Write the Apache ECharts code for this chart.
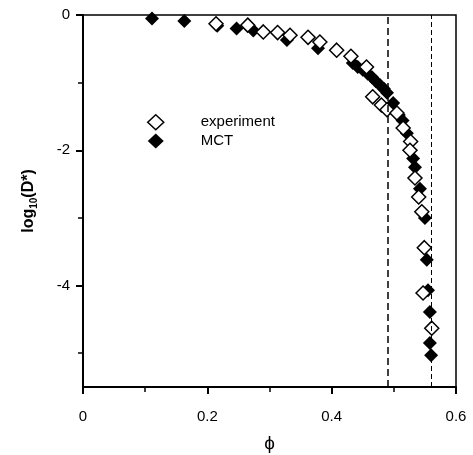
<!DOCTYPE html>
<html lang="en">
<head>
    <meta charset="UTF-8">
    <title>log10(D*) vs phi</title>
    <style>
        *{
            margin: 0;
            padding: 0;
        }
        .main{
            width: 473px;
            height: 455px;
            background: #fff;
        }
    </style>
    <script src="https://cdn.jsdelivr.net/npm/echarts@6/dist/echarts.min.js"></script>
</head>
<body>
<div class="main"></div>
<script>
    // data: [phi, log10(D*)]
    let experiment = [
        [0.214, -0.13], [0.265, -0.15], [0.290, -0.25], [0.313, -0.26], [0.333, -0.30],
        [0.362, -0.33], [0.381, -0.40], [0.408, -0.52], [0.431, -0.61], [0.456, -0.77],
        [0.466, -1.21], [0.480, -1.33], [0.489, -1.40], [0.505, -1.45], [0.515, -1.67],
        [0.527, -1.87], [0.526, -2.00], [0.534, -2.41], [0.540, -2.69], [0.545, -2.91],
        [0.549, -3.44], [0.547, -4.11], [0.561, -4.63]
    ];
    let mct = [
        [0.111, -0.05], [0.163, -0.09], [0.216, -0.16], [0.247, -0.20], [0.274, -0.23],
        [0.328, -0.37], [0.378, -0.49], [0.434, -0.71], [0.442, -0.77], [0.450, -0.81],
        [0.458, -0.87], [0.465, -0.92], [0.471, -0.98], [0.478, -1.04], [0.484, -1.09],
        [0.489, -1.15], [0.499, -1.30], [0.508, -1.48], [0.514, -1.56], [0.521, -1.75],
        [0.531, -2.12], [0.534, -2.25], [0.542, -2.57], [0.550, -3.00], [0.553, -3.62],
        [0.555, -4.07], [0.558, -4.39], [0.558, -4.85], [0.560, -5.03]
    ];
    let xTicks = [0, 0.2, 0.4, 0.6];
    let yMajor = [0, -2, -4];
    let yMinor = [-1, -3, -5];
    let dashLines = [0.494, 0.564];

    let chart = echarts.init(document.querySelector('.main'));
    let font = 'Liberation Sans, Arial, sans-serif';
    let option = {
        animation: false,
        textStyle: {fontFamily: font},
        grid: {
            left: 83, right: 17, top: 15, bottom: 68,
            outerBoundsMode: 'none',
            show: true, borderColor: '#000', borderWidth: 1.5
        },
        legend: {
            orient: 'vertical',
            left: 142,
            top: 109,
            itemWidth: 16,
            itemHeight: 15,
            itemGap: 3,
            textStyle: {fontSize: 15, color: '#000', padding: [0, 0, 0, 32]},
            data: [
                {name: 'experiment', icon: 'diamond', itemStyle: {color: '#fff', borderColor: '#000', borderWidth: 1.5, opacity: 1}},
                {name: 'MCT', icon: 'diamond', itemStyle: {color: '#000', opacity: 1}}
            ]
        },
        xAxis: {
            type: 'value',
            min: 0,
            max: 0.6,
            interval: 0.2,
            name: 'ϕ',
            nameLocation: 'middle',
            nameGap: 47,
            nameTextStyle: {fontSize: 19, color: '#000'},
            axisLine: {onZero: false, lineStyle: {color: '#000', width: 2}},
            axisTick: {inside: false, length: 7, lineStyle: {width: 2}},
            minorTick: {show: true, splitNumber: 2, length: 5, lineStyle: {color: '#000', width: 1.5}},
            axisLabel: {fontSize: 15, color: '#000', margin: 22,
                customValues: xTicks},
            splitLine: {show: false}
        },
        yAxis: [{
            type: 'value',
            min: -5.5,
            max: 0,
            position: 'left',
            name: '{a|log}{b|10}{a|(D*)}',
            nameLocation: 'middle',
            nameGap: 44,
            nameTextStyle: {
                color: '#000',
                rich: {
                    a: {fontSize: 16, fontWeight: 'bold', lineHeight: 20, fontFamily: font},
                    b: {fontSize: 10, fontWeight: 'bold', lineHeight: 8, verticalAlign: 'bottom', fontFamily: font}
                }
            },
            axisLine: {show: true, onZero: false, lineStyle: {color: '#000', width: 2}},
            axisTick: {show: true, inside: false, length: 7, lineStyle: {width: 2}, customValues: yMajor},
            axisLabel: {fontSize: 15, color: '#000', margin: 13, customValues: yMajor},
            splitLine: {show: false}
        }, {
            type: 'value',
            min: -5.5,
            max: 0,
            position: 'left',
            axisLine: {show: false, onZero: false},
            axisTick: {show: true, inside: false, length: 5, lineStyle: {color: '#000', width: 1.5}, customValues: yMinor},
            axisLabel: {show: false},
            splitLine: {show: false}
        }],
        series: [{
            name: 'MCT',
            type: 'scatter',
            symbol: 'diamond',
            symbolSize: 14,
            itemStyle: {color: '#000', opacity: 1},
            data: mct,
            markLine: {
                silent: true,
                symbol: ['none', 'none'],
                label: {show: false},
                data: [
                    {xAxis: dashLines[0], lineStyle: {color: '#000', width: 1.5, type: [7, 4]}},
                    {xAxis: dashLines[1], lineStyle: {color: '#000', width: 1, type: [5, 3]}}
                ]
            }
        }, {
            name: 'experiment',
            type: 'scatter',
            symbol: 'diamond',
            symbolSize: 14,
            itemStyle: {color: '#fff', borderColor: '#000', borderWidth: 1.5, opacity: 1},
            data: experiment
        }]
    };
    chart.setOption(option);
</script>
</body>
</html>
